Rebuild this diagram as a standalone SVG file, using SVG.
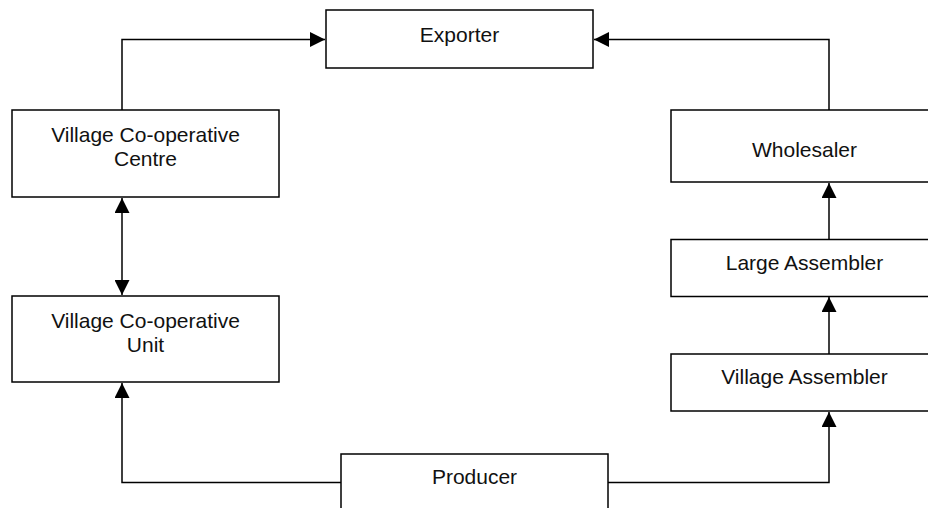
<svg xmlns="http://www.w3.org/2000/svg" width="928" height="508" viewBox="0 0 928 508">
<style>
.box{fill:#fff;stroke:#000;stroke-width:1.5}
.lbl{font-family:"Liberation Sans",Arial,sans-serif;font-size:21px;fill:#111;text-anchor:middle}
.con{fill:none;stroke:#000;stroke-width:1.5}
</style>
<defs>
<marker id="ah" viewBox="0 0 15 15" refX="15" refY="7.5" markerWidth="15" markerHeight="15" markerUnits="userSpaceOnUse" orient="auto-start-reverse">
<path d="M0,0 L15,7.5 L0,15 z" fill="#000"/>
</marker>
</defs>
<rect width="928" height="508" fill="#fff"/>
<g id="connectors">
<path class="con" d="M122,110 V39.5 H325" marker-end="url(#ah)"/>
<path class="con" d="M829,110 V39.5 H594" marker-end="url(#ah)"/>
<path class="con" d="M122,198 V295" marker-start="url(#ah)" marker-end="url(#ah)"/>
<path class="con" d="M341,482.5 H122 V383" marker-end="url(#ah)"/>
<path class="con" d="M608,482.5 H829 V412" marker-end="url(#ah)"/>
<path class="con" d="M829,354 V297" marker-end="url(#ah)"/>
<path class="con" d="M829,239 V183" marker-end="url(#ah)"/>
</g>
<g id="exporter">
<rect class="box" x="326" y="10" width="267" height="58"/>
<text class="lbl" x="459.5" y="41.7">Exporter</text>
</g>
<g id="vcc">
<rect class="box" x="12" y="110" width="267" height="87"/>
<text class="lbl" x="145.5" y="141.7">Village Co-operative</text>
<text class="lbl" x="145.5" y="165.7">Centre</text>
</g>
<g id="vcu">
<rect class="box" x="12" y="296" width="267" height="86"/>
<text class="lbl" x="145.5" y="328.3">Village Co-operative</text>
<text class="lbl" x="145.5" y="352">Unit</text>
</g>
<g id="wholesaler">
<rect class="box" x="671" y="110" width="267" height="72"/>
<text class="lbl" x="804.5" y="156.7">Wholesaler</text>
</g>
<g id="large-assembler">
<rect class="box" x="671" y="239.5" width="267" height="57"/>
<text class="lbl" x="804.5" y="270">Large Assembler</text>
</g>
<g id="village-assembler">
<rect class="box" x="671" y="354" width="267" height="57"/>
<text class="lbl" x="804.5" y="384.3">Village Assembler</text>
</g>
<g id="producer">
<rect class="box" x="341" y="454" width="267" height="70"/>
<text class="lbl" x="474.5" y="484.3">Producer</text>
</g>
</svg>
